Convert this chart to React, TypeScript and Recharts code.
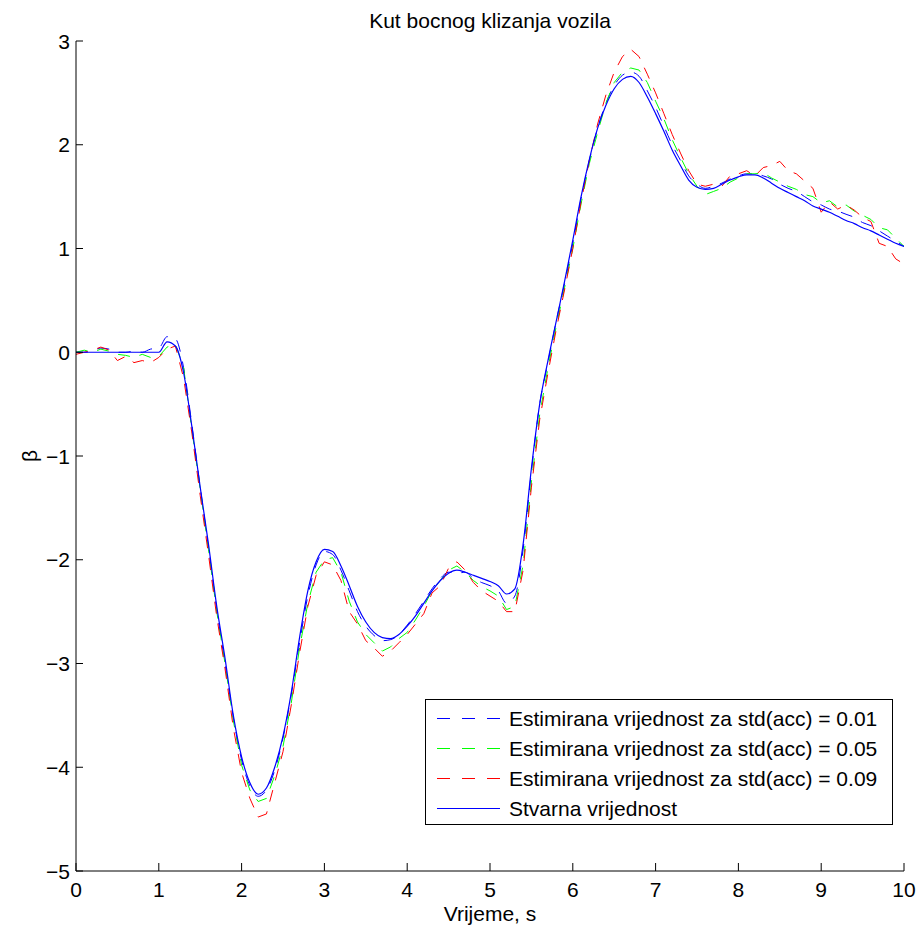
import { Legend, Line, LineChart, XAxis, YAxis } from "recharts";

const FONT = "'Liberation Sans', Arial, sans-serif";

const time = [
  0, 0.1, 0.2, 0.3, 0.4, 0.5, 0.6, 0.7, 0.8, 0.9,
  1, 1.1, 1.2, 1.3, 1.4, 1.5, 1.6, 1.7, 1.8, 1.9,
  2, 2.1, 2.2, 2.3, 2.4, 2.5, 2.6, 2.7, 2.8, 2.9,
  3, 3.1, 3.2, 3.3, 3.4, 3.5, 3.6, 3.7, 3.8, 3.9,
  4, 4.1, 4.2, 4.3, 4.4, 4.5, 4.6, 4.7, 4.8, 4.9,
  5, 5.1, 5.2, 5.3, 5.4, 5.5, 5.6, 5.7, 5.8, 5.9,
  6, 6.1, 6.2, 6.3, 6.4, 6.5, 6.6, 6.7, 6.8, 6.9,
  7, 7.1, 7.2, 7.3, 7.4, 7.5, 7.6, 7.7, 7.8, 7.9,
  8, 8.1, 8.2, 8.3, 8.4, 8.5, 8.6, 8.7, 8.8, 8.9,
  9, 9.1, 9.2, 9.3, 9.4, 9.5, 9.6, 9.7, 9.8, 9.9,
  10,
];

// stvarna vrijednost
const trueBeta = [
  0, 0, 0, 0, 0, 0, 0, 0, 0, 0,
  0, 0.1, 0.06, -0.2, -0.72, -1.3, -1.85, -2.45, -2.95, -3.5,
  -3.9, -4.15, -4.26, -4.2, -4.0, -3.7, -3.28, -2.75, -2.3, -2.02,
  -1.9, -1.92, -2.06, -2.25, -2.45, -2.6, -2.7, -2.75, -2.76, -2.72,
  -2.64, -2.54, -2.42, -2.3, -2.2, -2.13, -2.1, -2.12, -2.15, -2.18,
  -2.21, -2.25, -2.33, -2.28, -1.85, -1.12, -0.5, -0.08, 0.3, 0.68,
  1.08, 1.5, 1.86, 2.16, 2.38, 2.54, 2.63, 2.66, 2.6, 2.46,
  2.3, 2.13, 1.95, 1.8, 1.66, 1.59, 1.57, 1.58, 1.62, 1.66,
  1.69, 1.71, 1.71, 1.68, 1.63, 1.58, 1.54, 1.5, 1.46, 1.41,
  1.38, 1.35, 1.31, 1.27, 1.24, 1.2, 1.17, 1.13, 1.09, 1.05,
  1.02,
];

// std(acc) = 0.01
const est001 = [
  0, 0, 0.01, 0.04, 0.03, 0, 0, 0.01, 0, 0.03,
  0.04, 0.15, 0.13, -0.15, -0.7, -1.3, -1.88, -2.48, -3.0, -3.52,
  -3.93, -4.18, -4.28, -4.22, -4.03, -3.72, -3.3, -2.8, -2.35, -2.05,
  -1.92, -1.95, -2.1, -2.3, -2.5, -2.64, -2.73, -2.78, -2.77, -2.72,
  -2.63, -2.52, -2.4, -2.28, -2.18, -2.12, -2.13, -2.12, -2.18, -2.22,
  -2.25, -2.3, -2.42, -2.35, -1.9, -1.15, -0.5, -0.1, 0.3, 0.66,
  1.05, 1.48, 1.85, 2.16, 2.4, 2.57, 2.67, 2.7, 2.66, 2.52,
  2.36, 2.18, 2.0, 1.85, 1.7, 1.62, 1.58, 1.6, 1.63, 1.67,
  1.7, 1.72, 1.72, 1.7, 1.67, 1.62, 1.58, 1.55, 1.5, 1.45,
  1.42, 1.38, 1.36, 1.33, 1.3, 1.25, 1.22, 1.17, 1.12, 1.07,
  1.02,
];

// std(acc) = 0.05
const est005 = [
  0, 0.02, 0, 0.03, 0.01, -0.02, -0.03, -0.05, -0.02, -0.05,
  -0.04, 0.05, 0.08, -0.15, -0.75, -1.32, -1.9, -2.5, -3.0, -3.55,
  -3.98, -4.22, -4.33, -4.3, -4.08, -3.8, -3.38, -2.85, -2.42, -2.12,
  -2.0, -1.98, -2.12, -2.4, -2.6, -2.72, -2.8, -2.88, -2.84, -2.76,
  -2.7, -2.58, -2.45, -2.3, -2.2, -2.1, -2.06, -2.12, -2.2, -2.26,
  -2.3, -2.35, -2.48, -2.45, -2.05, -1.25, -0.6, -0.15, 0.25, 0.62,
  1.0, 1.43, 1.82, 2.12, 2.4, 2.6, 2.7, 2.74, 2.72, 2.6,
  2.42, 2.25, 2.05, 1.88, 1.72, 1.6, 1.52, 1.55, 1.58, 1.64,
  1.68, 1.72, 1.72, 1.73, 1.68, 1.64, 1.6, 1.57, 1.52, 1.5,
  1.44, 1.46, 1.4, 1.42, 1.36, 1.32, 1.28, 1.2, 1.18, 1.1,
  1.02,
];

// std(acc) = 0.09
const est009 = [
  -0.02, 0, 0.02, 0.05, 0.02, -0.08, -0.04, -0.1, -0.08, -0.1,
  -0.05, 0.03, 0.06, -0.25, -0.78, -1.38, -1.95, -2.55, -3.05, -3.62,
  -4.05, -4.3, -4.48, -4.45, -4.15, -3.85, -3.4, -2.9, -2.45, -2.15,
  -2.02, -2.05, -2.2, -2.5, -2.62, -2.78, -2.85, -2.93, -2.88, -2.8,
  -2.72, -2.62, -2.52, -2.32, -2.25, -2.08, -2.02, -2.1, -2.22, -2.3,
  -2.35, -2.4, -2.5, -2.5, -2.1, -1.3, -0.65, -0.2, 0.22, 0.6,
  1.0, 1.45, 1.85, 2.2, 2.48, 2.7, 2.85, 2.92, 2.85, 2.68,
  2.5, 2.3, 2.1, 1.92, 1.75, 1.62, 1.6, 1.62, 1.6, 1.7,
  1.72, 1.75, 1.7, 1.78, 1.8, 1.84, 1.75, 1.72, 1.65, 1.58,
  1.35, 1.45, 1.38, 1.42, 1.37, 1.3, 1.26, 1.05, 1.02, 0.9,
  0.85,
];

const xTicks = [0, 1, 2, 3, 4, 5, 6, 7, 8, 9, 10];
const yTicks = [-5, -4, -3, -2, -1, 0, 1, 2, 3];

const legendLabels = [
  "Estimirana vrijednost za std(acc) = 0.01",
  "Estimirana vrijednost za std(acc) = 0.05",
  "Estimirana vrijednost za std(acc) = 0.09",
  "Stvarna vrijednost",
];
const legendColors = ["#0000ff", "#00ff00", "#ff0000", "#0000ff"];
const legendDashed = [true, true, true, false];

const data = time.map((t, i) => ({
  t,
  est001: est001[i],
  est005: est005[i],
  est009: est009[i],
  real: trueBeta[i],
}));

const fmt = (v: number) => (v < 0 ? "\u2212" + Math.abs(v) : String(v));

const XTick = (props: any) => {
  const { x, y, payload } = props;
  return (
    <g>
      <line x1={x} x2={x} y1={y} y2={y - 8} stroke="#000" />
      <text x={x} y={y + 26} textAnchor="middle" fontSize={21} fontFamily={FONT} fill="#000">
        {fmt(payload.value)}
      </text>
    </g>
  );
};

const YTick = (props: any) => {
  const { x, y, payload } = props;
  return (
    <g>
      <line x1={x} x2={x + 7} y1={y} y2={y} stroke="#000" />
      <text x={x - 6} y={y + 7.5} textAnchor="end" fontSize={21} fontFamily={FONT} fill="#000">
        {fmt(payload.value)}
      </text>
    </g>
  );
};

const LegendBox = () => (
  <svg width={469} height={127} style={{ display: "block" }}>
    <rect x={0.5} y={0.5} width={467} height={125} fill="#fff" stroke="#000" />
    {legendLabels.map((label, i) => {
      const cy = 19.5 + i * 30;
      return (
        <g key={label}>
          <line
            x1={12}
            x2={75}
            y1={cy}
            y2={cy}
            stroke={legendColors[i]}
            strokeDasharray={legendDashed[i] ? "13 12" : undefined}
          />
          <text x={84} y={cy + 7.7} fontSize={21} fontFamily={FONT} fill="#000">
            {label}
          </text>
        </g>
      );
    })}
  </svg>
);

export default function App() {
  return (
    <div style={{ position: "absolute", left: 0, top: 0, width: 919, height: 932, background: "#fff" }}>
      <div
        style={{
          position: "absolute",
          left: 76,
          top: 10,
          width: 828,
          textAlign: "center",
          fontFamily: FONT,
          fontSize: 21,
          lineHeight: "21px",
          color: "#000",
        }}
      >
        Kut bocnog klizanja vozila
      </div>
      <LineChart width={919} height={932} data={data} margin={{ top: 41, right: 15, bottom: 0, left: 0 }}>
        <XAxis
          dataKey="t"
          type="number"
          domain={[0, 10]}
          ticks={xTicks}
          interval={0}
          height={61}
          tickSize={0}
          tickMargin={0}
          tickLine={false}
          tick={<XTick />}
          axisLine={{ stroke: "#000" }}
          allowDataOverflow
          label={{ value: "Vrijeme, s", position: "insideBottom", offset: 11, fontSize: 21, fontFamily: FONT, fill: "#000" }}
        />
        <YAxis
          type="number"
          domain={[-5, 3]}
          ticks={yTicks}
          interval={0}
          width={76}
          tickSize={0}
          tickMargin={0}
          tickLine={false}
          tick={<YTick />}
          axisLine={{ stroke: "#000" }}
          allowDataOverflow
          label={{ value: "\u03b2", angle: -90, position: "center", dx: -8, fontSize: 21, fontFamily: FONT, fill: "#000" }}
        />
        <Legend
          layout="horizontal"
          verticalAlign="middle"
          align="center"
          content={<LegendBox />}
          wrapperStyle={{ left: 425, top: 699, width: 469, height: 127 }}
        />
        <Line dataKey="est001" type="monotone" stroke="#0000ff" strokeWidth={1} strokeDasharray="12 10" dot={false} activeDot={false} isAnimationActive={false} />
        <Line dataKey="est005" type="linear" stroke="#00ff00" strokeWidth={1} strokeDasharray="12 10" dot={false} activeDot={false} isAnimationActive={false} />
        <Line dataKey="est009" type="linear" stroke="#ff0000" strokeWidth={1} strokeDasharray="12 10" dot={false} activeDot={false} isAnimationActive={false} />
        <Line dataKey="real" type="monotone" stroke="#0000ff" strokeWidth={1.2} dot={false} activeDot={false} isAnimationActive={false} />
      </LineChart>
    </div>
  );
}
